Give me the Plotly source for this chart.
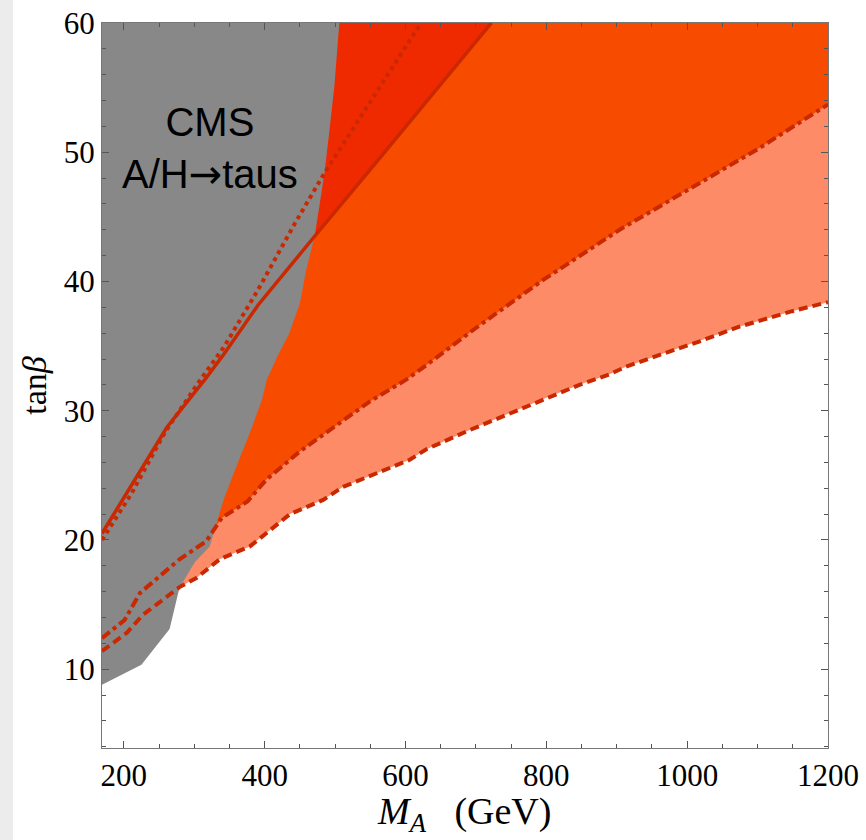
import plotly.graph_objects as go

# CMS A/H -> tau tau exclusion boundary (right edge of the grey region)
cms_ma = [169, 225, 265, 279, 301, 322, 336, 343, 360, 379, 396, 403, 418, 435,
          450, 459, 471, 478, 485, 492, 499, 506]
cms_tb = [8.8, 10.35, 13.1, 16.3, 18.3, 19.5, 22.1, 23.3, 25.7, 28.3, 30.8, 32.4,
          34.2, 36.0, 38.3, 40.9, 43.5, 45.8, 48.4, 51.7, 55.1, 60.0]

# solid contour
solid_ma = [169, 223, 261, 315, 341, 391, 443, 471, 549, 722]
solid_tb = [20.5, 25.3, 28.7, 32.4, 34.3, 38.2, 41.7, 43.5, 48.6, 60.0]

# dotted contour
dot_ma = [169, 211, 258, 305, 343, 391, 443, 485, 622]
dot_tb = [20.0, 23.6, 28.3, 32.1, 35.0, 39.4, 44.5, 48.4, 60.0]

# dash-dotted contour
dd_ma = [169, 201, 223, 279, 317, 339, 376, 402, 450, 511, 549, 601, 629, 700,
         795, 904, 960, 1102, 1200]
dd_tb = [12.4, 13.8, 15.9, 18.5, 19.9, 21.7, 23.0, 24.65, 26.85, 29.2, 30.7,
         32.4, 33.5, 36.4, 40.1, 44.0, 45.8, 50.3, 53.7]

# dashed contour
dash_ma = [169, 204, 227, 279, 303, 336, 379, 436, 483, 511, 606, 629, 691, 748,
           800, 847, 889, 913, 960, 1017, 1074, 1149, 1200]
dash_tb = [11.4, 12.8, 14.2, 16.35, 17.05, 18.5, 19.5, 22.0, 23.1, 24.1, 26.2,
           27.0, 28.5, 29.8, 31.0, 32.0, 32.8, 33.4, 34.3, 35.35, 36.5, 37.7, 38.4]

X_MIN, X_MAX = 169, 1200
Y_MIN, Y_MAX = 3.9, 60

GREY = "#888888"
RED = "#ef2a00"
ORANGE = "#f74c00"
SALMON = "#fd8b68"
LINE = "#c92800"

SERIF = "Liberation Serif, Times New Roman, serif"


def region_above(xs, ys):
    """Close a contour upward to the top edge of the frame."""
    if ys[-1] >= Y_MAX:
        return list(xs) + [X_MIN], list(ys) + [Y_MAX]
    return list(xs) + [X_MAX, X_MIN], list(ys) + [Y_MAX, Y_MAX]


fig = go.Figure()

for xs, ys, col in [(dash_ma, dash_tb, SALMON),
                    (dd_ma, dd_tb, ORANGE),
                    (solid_ma, solid_tb, RED)]:
    px, py = region_above(xs, ys)
    fig.add_trace(go.Scatter(x=px, y=py, mode="lines", fill="toself",
                             fillcolor=col, line=dict(width=0, color=col),
                             hoverinfo="skip", showlegend=False))

# grey CMS region: left of the boundary
gx = list(cms_ma) + [X_MIN]
gy = list(cms_tb) + [Y_MAX]
fig.add_trace(go.Scatter(x=gx, y=gy, mode="lines", fill="toself",
                         fillcolor=GREY, line=dict(width=0, color=GREY),
                         hoverinfo="skip", showlegend=False))

for xs, ys, dash, w in [(solid_ma, solid_tb, "solid", 3.5),
                        (dot_ma, dot_tb, "4px,4px", 4),
                        (dd_ma, dd_tb, "10px,4px,4px,4px", 4),
                        (dash_ma, dash_tb, "9px,5px", 4)]:
    fig.add_trace(go.Scatter(x=xs, y=ys, mode="lines",
                             line=dict(color=LINE, width=w, dash=dash),
                             hoverinfo="skip", showlegend=False))

fig.add_annotation(x=323, y=50.3, xref="x", yref="y",
                   text="CMS<br>A/H<span style=\"font-family:'DejaVu Sans'\">→</span>taus",
                   showarrow=False,
                   font=dict(family="Liberation Sans, Arial, sans-serif",
                             size=40, color="black"),
                   align="center")

# x-axis title, right end placed in plot-area fraction
fig.add_annotation(x=(553 - 102) / 726, y=0, xref="paper", yref="paper",
                   xanchor="right", yanchor="top", yshift=-40,
                   text="<i>M</i><sub><i>A</i></sub>\u00a0\u00a0\u00a0(GeV)",
                   showarrow=False,
                   font=dict(family=SERIF, size=38, color="black"))

axis_common = dict(
    showgrid=False, zeroline=False, automargin=False,
    showline=True, linecolor="#777777", linewidth=1,
    mirror="ticks", ticks="inside", ticklen=7, tickwidth=1,
    tickcolor="#555555",
    tickfont=dict(family=SERIF, size=31, color="black"),
)

fig.update_xaxes(range=[X_MIN, X_MAX], tickvals=[200, 400, 600, 800, 1000, 1200],
                 minor=dict(dtick=50, tick0=0, ticks="inside", ticklen=4,
                            tickcolor="#555555", showgrid=False),
                 **axis_common)
fig.update_yaxes(range=[Y_MIN, Y_MAX], tickvals=[10, 20, 30, 40, 50, 60],
                 minor=dict(dtick=2, tick0=0, ticks="inside", ticklen=4,
                            tickcolor="#555555", showgrid=False),
                 title=dict(text="tan<i>β</i>",
                            font=dict(family=SERIF, size=34, color="black"),
                            standoff=6),
                 **axis_common)

# light margin strip along the left edge of the page
fig.add_shape(type="rect", xref="paper", yref="paper",
              x0=-102 / 726, x1=-89 / 726, y0=-0.2, y1=1.1,
              fillcolor="#ececec", line=dict(width=0), layer="below")

fig.update_layout(
    width=866, height=840,
    margin=dict(l=102, r=38, t=23, b=92),
    paper_bgcolor="white", plot_bgcolor="white",
)

fig.write_html("out.html")
